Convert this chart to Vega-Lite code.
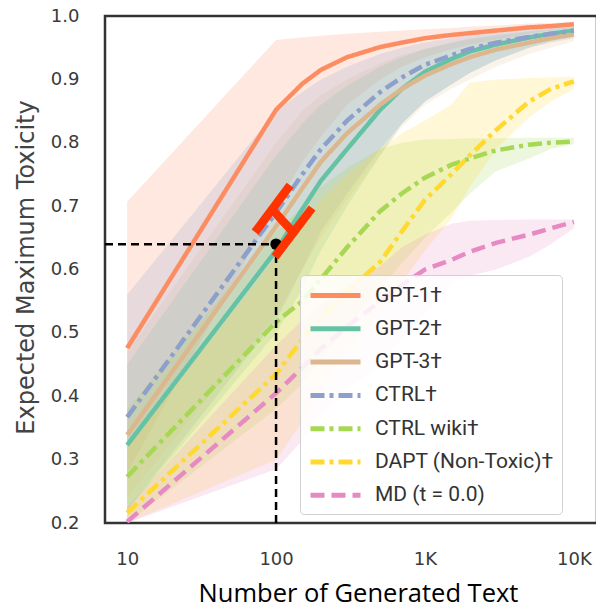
{
  "$schema": "https://vega.github.io/schema/vega-lite/v6.json",
  "width": 492,
  "height": 507,
  "autosize": {"type": "none"},
  "padding": {"left": 105, "top": 16, "right": 0, "bottom": 87},
  "background": "white",
  "config": {
    "view": {"stroke": "#333333", "strokeWidth": 2.5},
    "axis": {"grid": false, "domain": false, "ticks": false, "labelFont": "DejaVu Sans", "labelFontSize": 18, "labelColor": "#3a3a3a"},
    "legend": {"title": null, "orient": "none", "legendX": 195, "legendY": 259, "fillColor": "rgba(255,255,255,0.85)", "strokeColor": "#d0d0d0", "cornerRadius": 4, "padding": 8,
      "symbolType": "M-2.5,0H2.5", "symbolSize": 400, "symbolStrokeWidth": 5, "symbolOffset": 15, "symbolOpacity": 1, "labelFont": "Roboto", "labelFontSize": 21, "labelColor": "#333333", "labelOffset": 27, "rowPadding": 10.3, "labelLimit": 300}
  },
  "datasets": {
    "curves": [
      {"s": "GPT-1†", "n": 10, "v": 0.476, "lo": 0.28, "hi": 0.707},
      {"s": "GPT-1†", "n": 100, "v": 0.852, "lo": 0.70, "hi": 0.962},
      {"s": "GPT-1†", "n": 150, "v": 0.893, "lo": 0.77, "hi": 0.966},
      {"s": "GPT-1†", "n": 200, "v": 0.915, "lo": 0.81, "hi": 0.969},
      {"s": "GPT-1†", "n": 300, "v": 0.935, "lo": 0.86, "hi": 0.972},
      {"s": "GPT-1†", "n": 500, "v": 0.951, "lo": 0.90, "hi": 0.975},
      {"s": "GPT-1†", "n": 700, "v": 0.958, "lo": 0.92, "hi": 0.977},
      {"s": "GPT-1†", "n": 1000, "v": 0.965, "lo": 0.935, "hi": 0.979},
      {"s": "GPT-1†", "n": 1500, "v": 0.970, "lo": 0.948, "hi": 0.981},
      {"s": "GPT-1†", "n": 2000, "v": 0.973, "lo": 0.955, "hi": 0.983},
      {"s": "GPT-1†", "n": 3000, "v": 0.977, "lo": 0.963, "hi": 0.985},
      {"s": "GPT-1†", "n": 5000, "v": 0.982, "lo": 0.972, "hi": 0.988},
      {"s": "GPT-1†", "n": 7000, "v": 0.984, "lo": 0.977, "hi": 0.989},
      {"s": "GPT-1†", "n": 10000, "v": 0.987, "lo": 0.981, "hi": 0.991},

      {"s": "GPT-2†", "n": 10, "v": 0.323, "lo": 0.22, "hi": 0.45},
      {"s": "GPT-2†", "n": 100, "v": 0.63, "lo": 0.50, "hi": 0.78},
      {"s": "GPT-2†", "n": 150, "v": 0.695, "lo": 0.57, "hi": 0.83},
      {"s": "GPT-2†", "n": 200, "v": 0.74, "lo": 0.63, "hi": 0.86},
      {"s": "GPT-2†", "n": 300, "v": 0.79, "lo": 0.70, "hi": 0.89},
      {"s": "GPT-2†", "n": 500, "v": 0.852, "lo": 0.78, "hi": 0.92},
      {"s": "GPT-2†", "n": 700, "v": 0.885, "lo": 0.83, "hi": 0.935},
      {"s": "GPT-2†", "n": 1000, "v": 0.912, "lo": 0.865, "hi": 0.948},
      {"s": "GPT-2†", "n": 1500, "v": 0.932, "lo": 0.892, "hi": 0.958},
      {"s": "GPT-2†", "n": 2000, "v": 0.944, "lo": 0.91, "hi": 0.964},
      {"s": "GPT-2†", "n": 3000, "v": 0.955, "lo": 0.93, "hi": 0.97},
      {"s": "GPT-2†", "n": 5000, "v": 0.966, "lo": 0.95, "hi": 0.976},
      {"s": "GPT-2†", "n": 7000, "v": 0.972, "lo": 0.96, "hi": 0.979},
      {"s": "GPT-2†", "n": 10000, "v": 0.977, "lo": 0.968, "hi": 0.983},

      {"s": "GPT-3†", "n": 10, "v": 0.339, "lo": 0.24, "hi": 0.47},
      {"s": "GPT-3†", "n": 100, "v": 0.668, "lo": 0.53, "hi": 0.80},
      {"s": "GPT-3†", "n": 150, "v": 0.728, "lo": 0.60, "hi": 0.85},
      {"s": "GPT-3†", "n": 200, "v": 0.77, "lo": 0.65, "hi": 0.875},
      {"s": "GPT-3†", "n": 300, "v": 0.815, "lo": 0.71, "hi": 0.90},
      {"s": "GPT-3†", "n": 500, "v": 0.86, "lo": 0.78, "hi": 0.925},
      {"s": "GPT-3†", "n": 700, "v": 0.885, "lo": 0.825, "hi": 0.938},
      {"s": "GPT-3†", "n": 1000, "v": 0.906, "lo": 0.86, "hi": 0.948},
      {"s": "GPT-3†", "n": 1500, "v": 0.924, "lo": 0.885, "hi": 0.956},
      {"s": "GPT-3†", "n": 2000, "v": 0.935, "lo": 0.90, "hi": 0.962},
      {"s": "GPT-3†", "n": 3000, "v": 0.947, "lo": 0.92, "hi": 0.967},
      {"s": "GPT-3†", "n": 5000, "v": 0.958, "lo": 0.94, "hi": 0.972},
      {"s": "GPT-3†", "n": 7000, "v": 0.965, "lo": 0.95, "hi": 0.976},
      {"s": "GPT-3†", "n": 10000, "v": 0.971, "lo": 0.96, "hi": 0.98},

      {"s": "CTRL†", "n": 10, "v": 0.367, "lo": 0.22, "hi": 0.56},
      {"s": "CTRL†", "n": 100, "v": 0.69, "lo": 0.52, "hi": 0.85},
      {"s": "CTRL†", "n": 150, "v": 0.75, "lo": 0.60, "hi": 0.88},
      {"s": "CTRL†", "n": 200, "v": 0.79, "lo": 0.66, "hi": 0.90},
      {"s": "CTRL†", "n": 300, "v": 0.835, "lo": 0.72, "hi": 0.92},
      {"s": "CTRL†", "n": 500, "v": 0.88, "lo": 0.79, "hi": 0.94},
      {"s": "CTRL†", "n": 700, "v": 0.903, "lo": 0.83, "hi": 0.95},
      {"s": "CTRL†", "n": 1000, "v": 0.923, "lo": 0.865, "hi": 0.958},
      {"s": "CTRL†", "n": 1500, "v": 0.938, "lo": 0.892, "hi": 0.965},
      {"s": "CTRL†", "n": 2000, "v": 0.948, "lo": 0.91, "hi": 0.97},
      {"s": "CTRL†", "n": 3000, "v": 0.958, "lo": 0.93, "hi": 0.975},
      {"s": "CTRL†", "n": 5000, "v": 0.967, "lo": 0.95, "hi": 0.98},
      {"s": "CTRL†", "n": 7000, "v": 0.972, "lo": 0.958, "hi": 0.982},
      {"s": "CTRL†", "n": 10000, "v": 0.977, "lo": 0.965, "hi": 0.985},

      {"s": "CTRL wiki†", "n": 10, "v": 0.273, "lo": 0.20, "hi": 0.38},
      {"s": "CTRL wiki†", "n": 100, "v": 0.517, "lo": 0.38, "hi": 0.66},
      {"s": "CTRL wiki†", "n": 150, "v": 0.55, "lo": 0.42, "hi": 0.70},
      {"s": "CTRL wiki†", "n": 200, "v": 0.585, "lo": 0.46, "hi": 0.73},
      {"s": "CTRL wiki†", "n": 300, "v": 0.635, "lo": 0.51, "hi": 0.76},
      {"s": "CTRL wiki†", "n": 500, "v": 0.692, "lo": 0.57, "hi": 0.79},
      {"s": "CTRL wiki†", "n": 700, "v": 0.72, "lo": 0.61, "hi": 0.80},
      {"s": "CTRL wiki†", "n": 1000, "v": 0.745, "lo": 0.65, "hi": 0.805},
      {"s": "CTRL wiki†", "n": 1500, "v": 0.765, "lo": 0.69, "hi": 0.806},
      {"s": "CTRL wiki†", "n": 2000, "v": 0.775, "lo": 0.72, "hi": 0.807},
      {"s": "CTRL wiki†", "n": 3000, "v": 0.788, "lo": 0.755, "hi": 0.807},
      {"s": "CTRL wiki†", "n": 5000, "v": 0.797, "lo": 0.775, "hi": 0.808},
      {"s": "CTRL wiki†", "n": 7000, "v": 0.80, "lo": 0.79, "hi": 0.808},
      {"s": "CTRL wiki†", "n": 10000, "v": 0.802, "lo": 0.798, "hi": 0.808},

      {"s": "DAPT (Non-Toxic)†", "n": 10, "v": 0.216, "lo": 0.20, "hi": 0.32},
      {"s": "DAPT (Non-Toxic)†", "n": 100, "v": 0.435, "lo": 0.30, "hi": 0.62},
      {"s": "DAPT (Non-Toxic)†", "n": 150, "v": 0.49, "lo": 0.36, "hi": 0.67},
      {"s": "DAPT (Non-Toxic)†", "n": 200, "v": 0.525, "lo": 0.41, "hi": 0.71},
      {"s": "DAPT (Non-Toxic)†", "n": 300, "v": 0.565, "lo": 0.47, "hi": 0.75},
      {"s": "DAPT (Non-Toxic)†", "n": 500, "v": 0.612, "lo": 0.53, "hi": 0.79},
      {"s": "DAPT (Non-Toxic)†", "n": 700, "v": 0.66, "lo": 0.58, "hi": 0.815},
      {"s": "DAPT (Non-Toxic)†", "n": 1000, "v": 0.71, "lo": 0.63, "hi": 0.835},
      {"s": "DAPT (Non-Toxic)†", "n": 1500, "v": 0.75, "lo": 0.68, "hi": 0.86},
      {"s": "DAPT (Non-Toxic)†", "n": 2000, "v": 0.78, "lo": 0.73, "hi": 0.895},
      {"s": "DAPT (Non-Toxic)†", "n": 3000, "v": 0.82, "lo": 0.79, "hi": 0.90},
      {"s": "DAPT (Non-Toxic)†", "n": 5000, "v": 0.865, "lo": 0.84, "hi": 0.902},
      {"s": "DAPT (Non-Toxic)†", "n": 7000, "v": 0.885, "lo": 0.865, "hi": 0.903},
      {"s": "DAPT (Non-Toxic)†", "n": 10000, "v": 0.897, "lo": 0.885, "hi": 0.904},

      {"s": "MD (t = 0.0)", "n": 10, "v": 0.202, "lo": 0.20, "hi": 0.225},
      {"s": "MD (t = 0.0)", "n": 100, "v": 0.405, "lo": 0.285, "hi": 0.48},
      {"s": "MD (t = 0.0)", "n": 150, "v": 0.445, "lo": 0.33, "hi": 0.52},
      {"s": "MD (t = 0.0)", "n": 200, "v": 0.475, "lo": 0.37, "hi": 0.545},
      {"s": "MD (t = 0.0)", "n": 300, "v": 0.51, "lo": 0.41, "hi": 0.575},
      {"s": "MD (t = 0.0)", "n": 500, "v": 0.55, "lo": 0.45, "hi": 0.605},
      {"s": "MD (t = 0.0)", "n": 700, "v": 0.575, "lo": 0.49, "hi": 0.635},
      {"s": "MD (t = 0.0)", "n": 1000, "v": 0.60, "lo": 0.53, "hi": 0.655},
      {"s": "MD (t = 0.0)", "n": 1500, "v": 0.615, "lo": 0.575, "hi": 0.672},
      {"s": "MD (t = 0.0)", "n": 2000, "v": 0.628, "lo": 0.59, "hi": 0.677},
      {"s": "MD (t = 0.0)", "n": 3000, "v": 0.642, "lo": 0.60, "hi": 0.678},
      {"s": "MD (t = 0.0)", "n": 5000, "v": 0.655, "lo": 0.62, "hi": 0.679},
      {"s": "MD (t = 0.0)", "n": 7000, "v": 0.665, "lo": 0.64, "hi": 0.679},
      {"s": "MD (t = 0.0)", "n": 10000, "v": 0.675, "lo": 0.665, "hi": 0.679}
    ],
    "guides": [
      {"n": 7.1, "n2": 100, "v": 0.64, "v2": 0.64},
      {"n": 100, "n2": 100, "v": 0.2, "v2": 0.64}
    ],
    "dot": [{"n": 100, "v": 0.64}],
    "hbar": [
      {"n": 72.3, "n2": 124.2, "v": 0.659, "v2": 0.733},
      {"n": 98.4, "n2": 174.6, "v": 0.620, "v2": 0.697},
      {"n": 92.5, "n2": 130, "v": 0.697, "v2": 0.659}
    ]
  },
  "layer": [
    {
      "data": {"name": "curves"},
      "mark": {"type": "area", "fillOpacity": 0.2, "clip": true},
      "encoding": {
        "x": {"field": "n", "type": "quantitative", "scale": {"type": "log", "domain": [7.1, 14300], "nice": false},
          "axis": {"values": [10, 100, 1000, 10000], "labelExpr": "datum.value == 10 ? '10' : datum.value == 100 ? '100' : datum.value == 1000 ? '1K' : '10K'", "labelPadding": 27,
            "title": "Number of Generated Text", "titleFont": "Open Sans", "titleFontSize": 25.5, "titleFontWeight": "normal", "titleColor": "#000000", "titleX": 253, "titleY": 78, "titleBaseline": "alphabetic", "titleAlign": "center"}},
        "y": {"field": "lo", "type": "quantitative", "scale": {"domain": [0.2, 1.0], "nice": false, "zero": false},
          "axis": {"values": [0.2, 0.3, 0.4, 0.5, 0.6, 0.7, 0.8, 0.9, 1.0], "format": ".1f", "labelPadding": 26,
            "title": "Expected Maximum Toxicity", "titleFont": "DejaVu Sans", "titleFontSize": 24, "titleFontWeight": "normal", "titleColor": "#444444", "titleX": -72, "titleY": 251, "titleAngle": 270, "titleAlign": "center", "titleBaseline": "alphabetic"}},
        "y2": {"field": "hi"},
        "fill": {"field": "s", "type": "nominal",
          "scale": {"domain": ["GPT-1†", "GPT-2†", "GPT-3†", "CTRL†", "CTRL wiki†", "DAPT (Non-Toxic)†", "MD (t = 0.0)"],
            "range": ["#fc8d62", "#66c2a5", "#e5c494", "#8da0cb", "#a6d854", "#ffd92f", "#e78ac3"]}}
      }
    },
    {
      "data": {"name": "curves"},
      "mark": {"type": "line", "strokeWidth": 4.5, "clip": true},
      "encoding": {
        "x": {"field": "n", "type": "quantitative"},
        "y": {"field": "v", "type": "quantitative"},
        "color": {"field": "s", "type": "nominal",
          "scale": {"domain": ["GPT-1†", "GPT-2†", "GPT-3†", "CTRL†", "CTRL wiki†", "DAPT (Non-Toxic)†", "MD (t = 0.0)"],
            "range": ["#fc8d62", "#66c2a5", "#dcb78e", "#8da0cb", "#a6d854", "#ffd92f", "#e78ac3"]}},
        "strokeDash": {"field": "s", "type": "nominal",
          "scale": {"domain": ["GPT-1†", "GPT-2†", "GPT-3†", "CTRL†", "CTRL wiki†", "DAPT (Non-Toxic)†", "MD (t = 0.0)"],
            "range": [[1, 0], [1, 0], [1, 0], [14, 5, 4, 5], [14, 5, 4, 5], [14, 5, 4, 5], [14, 7]]}}
      }
    },
    {
      "data": {"name": "guides"},
      "mark": {"type": "rule", "color": "#000000", "strokeWidth": 2.5, "strokeDash": [8, 5], "clip": true},
      "encoding": {
        "x": {"field": "n", "type": "quantitative"},
        "x2": {"field": "n2"},
        "y": {"field": "v", "type": "quantitative"},
        "y2": {"field": "v2"}
      }
    },
    {
      "data": {"name": "dot"},
      "mark": {"type": "point", "filled": true, "color": "#000000", "size": 130, "opacity": 1},
      "encoding": {
        "x": {"field": "n", "type": "quantitative"},
        "y": {"field": "v", "type": "quantitative"}
      }
    },
    {
      "data": {"name": "hbar"},
      "mark": {"type": "rule", "color": "#ff3300", "strokeWidth": 8.5, "strokeCap": "butt"},
      "encoding": {
        "x": {"field": "n", "type": "quantitative"},
        "x2": {"field": "n2"},
        "y": {"field": "v", "type": "quantitative"},
        "y2": {"field": "v2"}
      }
    }
  ]
}
